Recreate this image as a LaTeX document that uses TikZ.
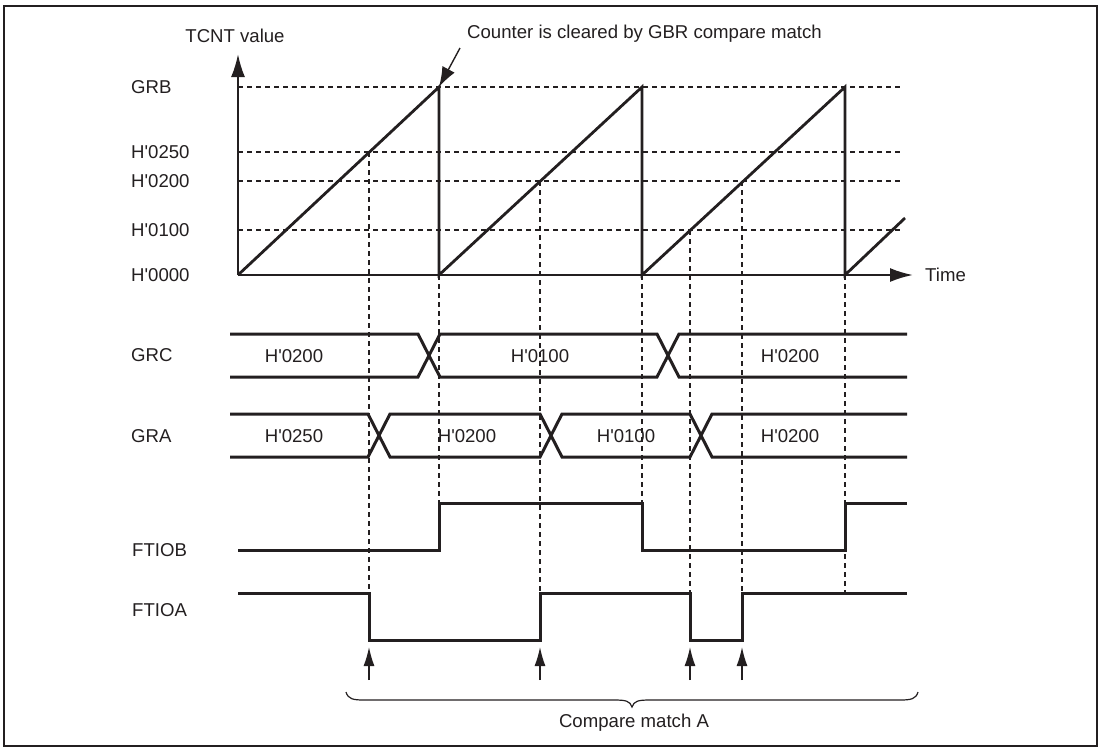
\documentclass[tikz,border=0pt]{standalone}
\usepackage{fontspec}
\setmainfont{Liberation Sans}[Ligatures=TeXOff]
\usetikzlibrary{arrows.meta}
\definecolor{ink}{HTML}{231F20}
\newcommand{\Hx}[1]{H'#1}
\begin{document}
\begin{tikzpicture}[x=1pt,y=-1pt,
  every node/.style={text=ink,font=\fontsize{18.6}{22}\selectfont,inner sep=0pt},
  lbl/.style={anchor=west},
  sig/.style={draw=ink,line width=3pt,line join=miter},
  axisline/.style={draw=ink,line width=2.2pt},
  guide/.style={draw=ink,line width=1.3pt,dash pattern=on 5pt off 4pt},
  bigtip/.style={-{Latex[length=23pt,width=14pt]}},
  smalltip/.style={-{Latex[length=19pt,width=11pt]}},
  frameline/.style={draw=ink,line width=2.5pt}
]
\useasboundingbox (0,0) rectangle (1100,748);
\draw[frameline] (4,6) rectangle (1097,746);

% key coordinates
\coordinate (O) at (238,275);
\coordinate (Ytop) at (238,54);
\coordinate (Xend) at (913,275);

% horizontal guide lines
\foreach \yy in {87,152,181,230}{\draw[guide] (238,\yy) -- (902,\yy);}

% vertical guide lines
\draw[guide] (369,152) -- (369,593);
\draw[guide] (439,275) -- (439,503);
\draw[guide] (540,181) -- (540,593);
\draw[guide] (642,275) -- (642,503);
\draw[guide] (690,230) -- (690,593);
\draw[guide] (742,181) -- (742,593);
\draw[guide] (845,275) -- (845,593);

% axes
\draw[axisline,bigtip] (O) -- (Ytop);
\draw[axisline,bigtip] (O) -- (Xend);

% sawtooth
\draw[sig,line width=2.8pt] (O) -- (439,87) -- (439,275) -- (642,87) -- (642,275) -- (845,87) -- (845,275) -- (905,218);

% labels left
\node[lbl] (lGRB) at (131,87) {GRB};
\node[lbl] (l250) at (131,152) {\Hx{0250}};
\node[lbl] (l200) at (131,181) {\Hx{0200}};
\node[lbl] (l100) at (131,230) {\Hx{0100}};
\node[lbl] (l000) at (131,275) {\Hx{0000}};
\node[lbl] (lGRC) at (131,355) {GRC};
\node[lbl] (lGRA) at (131,436) {GRA};
\node[lbl] (lFB) at (132,550) {FTIOB};
\node[lbl] (lFA) at (132,610) {FTIOA};

\node (tcnt) at (235,36) {TCNT value};
\node[lbl] (tm) at (925,275) {Time};

% callout
\node[lbl] (callout) at (467,34) {Counter is cleared by GBR compare match};
\coordinate (peak1) at (439,87);
\draw[draw=ink,line width=1.4pt,-{Latex[length=20pt,width=14pt]}] (460,48) -- (peak1);

% GRC bus
\draw[sig] (230,334) -- (418,334) -- (440,377) -- (657,377) -- (679,334) -- (907,334);
\draw[sig] (230,377) -- (418,377) -- (440,334) -- (657,334) -- (679,377) -- (907,377);
\node (c1) at (294,356) {\Hx{0200}};
\node (c2) at (540,356) {\Hx{0100}};
\node (c3) at (790,356) {\Hx{0200}};

% GRA bus
\draw[sig] (230,414) -- (368,414) -- (390,457) -- (540,457) -- (562,414) -- (690,414) -- (712,457) -- (907,457);
\draw[sig] (230,457) -- (368,457) -- (390,414) -- (540,414) -- (562,457) -- (690,457) -- (712,414) -- (907,414);
\node (a1) at (294,436) {\Hx{0250}};
\node (a2) at (467,436) {\Hx{0200}};
\node (a3) at (626,436) {\Hx{0100}};
\node (a4) at (790,436) {\Hx{0200}};

% FTIOB
\draw[sig] (238,550) -- (439,550) -- (439,503) -- (642,503) -- (642,550) -- (845,550) -- (845,503) -- (907,503);
% FTIOA
\draw[sig] (238,593) -- (369,593) -- (369,640) -- (540,640) -- (540,593) -- (690,593) -- (690,640) -- (742,640) -- (742,593) -- (907,593);

% compare match arrows
\foreach \xx in {369,540,690,742}{\draw[draw=ink,line width=1.4pt,smalltip] (\xx,680) -- (\xx,647);}

% brace
\draw[draw=ink,line width=1.2pt] (346,692) .. controls (348,699) and (353,700) .. (364,700) -- (614,700) .. controls (626,700) and (630,701) .. (632,707) .. controls (634,701) and (638,700) .. (650,700) -- (900,700) .. controls (911,700) and (916,699) .. (918,692);
\node (cmA) at (634,723) {Compare match A};
\end{tikzpicture}
\end{document}
